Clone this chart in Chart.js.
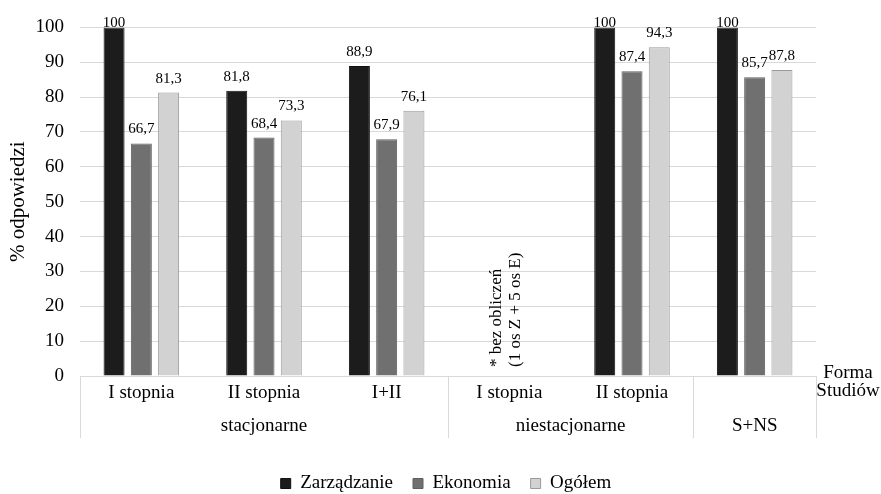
<!DOCTYPE html>
<html>
<head>
<meta charset="utf-8">
<script src="https://cdn.jsdelivr.net/npm/chart.js@4.4.0/dist/chart.umd.min.js"></script>
<style>
  html, body { margin: 0; padding: 0; background: #fff; }
  #wrap { width: 881px; height: 494px; position: relative; }
</style>
</head>
<body>
<div id="wrap"><canvas id="chart"></canvas></div>
<script>
// categories (first level) and groups (second level)
const categories = ['I stopnia', 'II stopnia', 'I+II', 'I stopnia', 'II stopnia', ''];
const groupLabels = ['stacjonarne', 'niestacjonarne', 'S+NS'];
const groupSizes = [3, 2, 1];

// series values, % odpowiedzi
const zarzadzanie = [100, 81.8, 88.9, null, 100, 100];
const ekonomia = [66.7, 68.4, 67.9, null, 87.4, 85.7];
const ogolem = [81.3, 73.3, 76.1, null, 94.3, 87.8];

const yMin = 0, yMax = 100, yStep = 10;
const noteLines = ['* bez obliczeń', '(1 os Z + 5 os E)'];
const noteIndex = 3;

const FONT = "'Liberation Serif', 'Times New Roman', serif";
const GRID = '#d9d9d9';

function fmt(v) {
    return String(v).replace('.', ',');
}

// value labels above the bars
const valueLabels = {
    id: 'valueLabels',
    afterDatasetsDraw(chart) {
        const ctx = chart.ctx;
        const top = chart.chartArea.top;
        ctx.save();
        ctx.font = '15px ' + FONT;
        ctx.fillStyle = '#000';
        ctx.textAlign = 'center';
        ctx.textBaseline = 'alphabetic';
        chart.data.datasets.forEach((ds, i) => {
            const meta = chart.getDatasetMeta(i);
            meta.data.forEach((bar, j) => {
                const v = ds.data[j];
                if (v === null) return;
                ctx.fillText(fmt(v), bar.x, Math.max(bar.y - 10, top));
            });
        });
        ctx.restore();
    }
};

// move the legend a bit, like the original
const legendShift = {
    id: 'legendShift',
    afterLayout(chart) {
        const lg = chart.legend;
        lg.top += 9;
        lg.bottom += 9;
        lg.left += 38;
        lg.right += 38;
    }
};

// second level of the x axis, dividers, note, axis caption
const groupAxis = {
    id: 'groupAxis',
    afterDraw(chart) {
        const ctx = chart.ctx;
        const x = chart.scales.x;
        const y = chart.scales.y;
        const n = categories.length;
        const edge = i => {
            if (i <= 0) return x.left;
            if (i >= n) return x.right;
            return (x.getPixelForValue(i - 1) + x.getPixelForValue(i)) / 2;
        };
        ctx.save();
        ctx.strokeStyle = GRID;
        ctx.lineWidth = 1;
        ctx.font = '19px ' + FONT;
        ctx.fillStyle = '#000';
        ctx.textAlign = 'center';
        ctx.textBaseline = 'middle';
        let start = 0;
        const bottom = x.top + 62;
        const drawDivider = px => {
            ctx.beginPath();
            ctx.moveTo(Math.round(px) + 0.5, x.top);
            ctx.lineTo(Math.round(px) + 0.5, bottom);
            ctx.stroke();
        };
        drawDivider(edge(0));
        groupLabels.forEach((g, k) => {
            const a = edge(start);
            const b = edge(start + groupSizes[k]);
            ctx.fillText(g, (a + b) / 2, x.top + 50);
            drawDivider(b);
            start += groupSizes[k];
        });

        // rotated note in the empty slot
        ctx.font = '17px ' + FONT;
        ctx.textAlign = 'left';
        const nx = x.getPixelForValue(noteIndex);
        ctx.translate(nx, y.getPixelForValue(0) - 9);
        ctx.rotate(-Math.PI / 2);
        ctx.fillText(noteLines[0], 0, -13);
        ctx.fillText(noteLines[1], 0, 6);
        ctx.restore();

        ctx.save();
        ctx.font = '19px ' + FONT;
        ctx.fillStyle = '#000';
        ctx.textAlign = 'center';
        ctx.textBaseline = 'middle';
        ctx.fillText('Forma', x.right + 32, x.top - 3);
        ctx.fillText('Studiów', x.right + 32, x.top + 15);
        ctx.restore();
    }
};

new Chart(document.getElementById('chart'), {
    type: 'bar',
    data: {
        labels: categories,
        datasets: [{
            label: 'Zarządzanie',
            data: zarzadzanie,
            backgroundColor: '#1c1c1c',
            borderColor: '#111',
            borderWidth: 1
        }, {
            label: 'Ekonomia',
            data: ekonomia,
            backgroundColor: '#707070',
            borderColor: '#5e5e5e',
            borderWidth: 1
        }, {
            label: 'Ogółem',
            data: ogolem,
            backgroundColor: '#d2d2d2',
            borderColor: '#9a9a9a',
            borderWidth: 1
        }]
    },
    options: {
        responsive: true,
        maintainAspectRatio: false,
        animation: false,
        datasets: {
            bar: { categoryPercentage: 0.667, barPercentage: 0.77 }
        },
        layout: { padding: { top: 21, right: 65, left: 0, bottom: 0 } },
        plugins: {
            tooltip: { enabled: false },
            legend: {
                position: 'bottom',
                labels: {
                    font: { family: FONT, size: 19 },
                    color: '#000',
                    boxWidth: 10,
                    boxHeight: 10,
                    padding: 20
                }
            }
        },
        scales: {
            x: {
                grid: { display: false, drawTicks: false },
                border: { display: true, color: GRID },
                ticks: {
                    font: { family: FONT, size: 19 },
                    color: '#000',
                    padding: 6,
                    maxRotation: 0,
                    autoSkip: false
                },
                afterFit(scale) { scale.height = 69; }
            },
            y: {
                min: yMin,
                max: yMax,
                grid: { color: GRID, drawTicks: false },
                border: { display: false },
                ticks: {
                    stepSize: yStep,
                    font: { family: FONT, size: 19 },
                    color: '#000',
                    padding: 16
                },
                title: {
                    display: true,
                    text: '% odpowiedzi',
                    font: { family: FONT, size: 21 },
                    color: '#000',
                    padding: { top: 6, bottom: 0 }
                },
                afterFit(scale) { scale.width = 80; }
            }
        }
    },
    plugins: [valueLabels, legendShift, groupAxis]
});
</script>
</body>
</html>
